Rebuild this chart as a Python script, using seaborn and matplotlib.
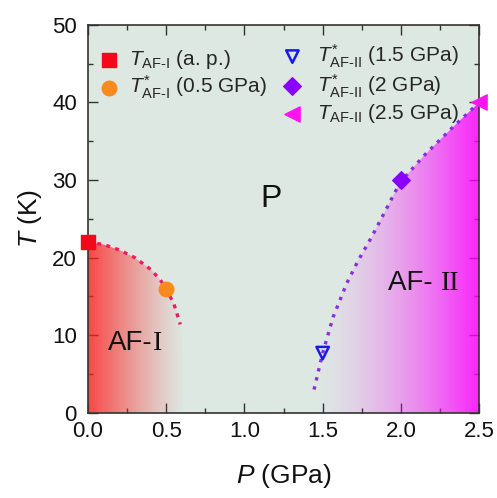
import numpy as np
import seaborn as sns
import matplotlib.pyplot as plt
from matplotlib.patches import Polygon
from matplotlib.ticker import MultipleLocator

# measured points
ap_p, ap_t = [0.0], [22.0]
afi_p, afi_t = [0.5], [16.0]
afii15_p, afii15_t = [1.5], [7.7]
afii2_p, afii2_t = [2.0], [30.0]
afii25_p, afii25_t = [2.5], [40.0]

# guide-to-the-eye boundaries
afi_curve_p = [0.0, 0.1, 0.2, 0.3, 0.4, 0.46, 0.5, 0.55, 0.59]
afi_curve_t = [22.0, 21.7, 21.0, 20.0, 18.5, 17.2, 16.0, 14.0, 11.4]
afii_curve_p = [1.445, 1.50, 1.568, 1.654, 1.729, 1.814, 1.91, 1.995, 2.15, 2.336, 2.5]
afii_curve_t = [3.0, 7.7, 12.4, 16.7, 19.7, 22.7, 26.4, 29.7, 33.2, 36.9, 40.0]

sns.set_theme(style='ticks')
plt.rcParams['font.family'] = ['Liberation Sans', 'DejaVu Sans']
plt.rcParams['mathtext.fontset'] = 'custom'
plt.rcParams['mathtext.rm'] = 'Liberation Sans'
plt.rcParams['mathtext.it'] = 'Liberation Sans:italic'
plt.rcParams['mathtext.bf'] = 'Liberation Sans:bold'

fig = plt.figure(figsize=(4.97, 4.98), dpi=100)
ax = fig.add_axes([0.177, 0.171, 0.787, 0.779])
ax.set_facecolor('#dde8e3')

# gradient shading of the ordered phases
xx = np.linspace(0, 2.5, 500)
red = np.zeros((2, 500, 4))
red[..., 0], red[..., 1], red[..., 2] = 1.0, 0.12, 0.12
red[..., 3] = 0.8 * np.clip(1 - xx / 0.62, 0, 1) ** 1.2
im1 = ax.imshow(red, extent=[0, 2.5, 0, 50], aspect='auto', origin='lower', zorder=1)
poly1 = Polygon(list(zip([0.0] + afi_curve_p + [0.65], [0.0] + afi_curve_t + [0.0])),
                closed=True, facecolor='none', edgecolor='none', transform=ax.transData)
ax.add_patch(poly1)
im1.set_clip_path(poly1)

mag = np.zeros((2, 500, 4))
mag[..., 0], mag[..., 1], mag[..., 2] = 1.0, 0.0, 1.0
mag[..., 3] = 0.85 * np.clip((xx - 1.42) / 1.08, 0, 1) ** 1.6
im2 = ax.imshow(mag, extent=[0, 2.5, 0, 50], aspect='auto', origin='lower', zorder=1)
poly2 = Polygon(list(zip([afii_curve_p[0]] + afii_curve_p + [2.5], [0.0] + afii_curve_t + [0.0])),
                closed=True, facecolor='none', edgecolor='none', transform=ax.transData)
ax.add_patch(poly2)
im2.set_clip_path(poly2)
ax.set_xlim(0, 2.5)
ax.set_ylim(0, 50)

sns.lineplot(x=afi_curve_p, y=afi_curve_t, ax=ax, color='#ec1c64', lw=2.4,
             linestyle=(0, (1.2, 1.6)), sort=False, zorder=2)
sns.lineplot(x=afii_curve_p, y=afii_curve_t, ax=ax, color='#8a2be2', lw=2.4,
             linestyle=(0, (1.0, 1.8)), sort=False, zorder=2)

h1 = ax.scatter(ap_p, ap_t, marker='s', s=100, color='#f5071a', zorder=5, clip_on=False,
                label=r'$T_{\text{AF-I}}$ (a. p.)')
h2 = ax.scatter(afi_p, afi_t, marker='o', s=110, color='#f98b1e', zorder=5,
                label=r'$T^{*}_{\text{AF-I}}$ (0.5 GPa)')
h3 = ax.scatter(afii15_p, afii15_t, marker='v', s=80, facecolors='none', edgecolors='#1a1ae6',
                linewidths=1.8, zorder=5, label=r'$T^{*}_{\text{AF-II}}$ (1.5 GPa)')
h4 = ax.scatter(afii2_p, afii2_t, marker='D', s=80, color='#8a00ff', zorder=5,
                label=r'$T^{*}_{\text{AF-II}}$ (2 GPa)')
h5 = ax.scatter(afii25_p, afii25_t, marker='<', s=120, color='#ff14f0', zorder=5, clip_on=False,
                label=r'$T_{\text{AF-II}}$ (2.5 GPa)')

leg1 = ax.legend(handles=[h1, h2], loc='upper left', bbox_to_anchor=(0.03, 0.94), frameon=False,
                 fontsize=15, handlelength=0.85, handletextpad=0.55, borderpad=0, labelspacing=0.12,
                 borderaxespad=0)
ax.add_artist(leg1)
ax.legend(handles=[h3, h4, h5], loc='upper left', bbox_to_anchor=(0.5, 0.955), frameon=False,
          fontsize=15, handlelength=0.85, handletextpad=0.75, borderpad=0, labelspacing=0.12,
          borderaxespad=0)

# phase labels
t1 = ax.text(0.13, 9, 'AF-', fontsize=20, va='center', ha='left', color='#111111', zorder=6)
ax.annotate('I', xy=(1, 0), xycoords=t1, va='bottom', ha='left', fontsize=20,
            family='Liberation Serif', color='#111111', zorder=6)
t2 = ax.text(1.92, 16.7, 'AF- ', fontsize=20, va='center', ha='left', color='#111111', zorder=6)
ax.annotate('II', xy=(1, 0), xycoords=t2, va='bottom', ha='left', fontsize=20,
            family='Liberation Serif', color='#111111', zorder=6)
ax.text(1.17, 27.5, 'P', fontsize=23, va='center', ha='center', color='#111111', zorder=6)

ax.set_xlabel('$P$ (GPa)', fontsize=19, labelpad=14, color='#111111')
ax.set_ylabel('$T$ (K)', fontsize=19, labelpad=6, color='#111111')
ax.xaxis.set_major_locator(MultipleLocator(0.5))
ax.xaxis.set_minor_locator(MultipleLocator(0.25))
ax.yaxis.set_major_locator(MultipleLocator(10))
ax.yaxis.set_minor_locator(MultipleLocator(5))
ax.set_xticks(np.arange(0, 2.51, 0.5))
ax.set_xticklabels(['0.0', '0.5', '1.0', '1.5', '2.0', '2.5'])
ax.tick_params(which='both', direction='in', top=True, right=True, color='#333333', width=1.0,
               labelsize=16, labelcolor='#111111')
ax.tick_params(axis='x', which='major', length=7, pad=6)
ax.tick_params(axis='y', which='major', length=7, pad=8)
ax.tick_params(which='minor', length=3.5)
for sp in ax.spines.values():
    sp.set_color('#333333')
    sp.set_linewidth(1.2)

plt.savefig('out.png', dpi=100)
